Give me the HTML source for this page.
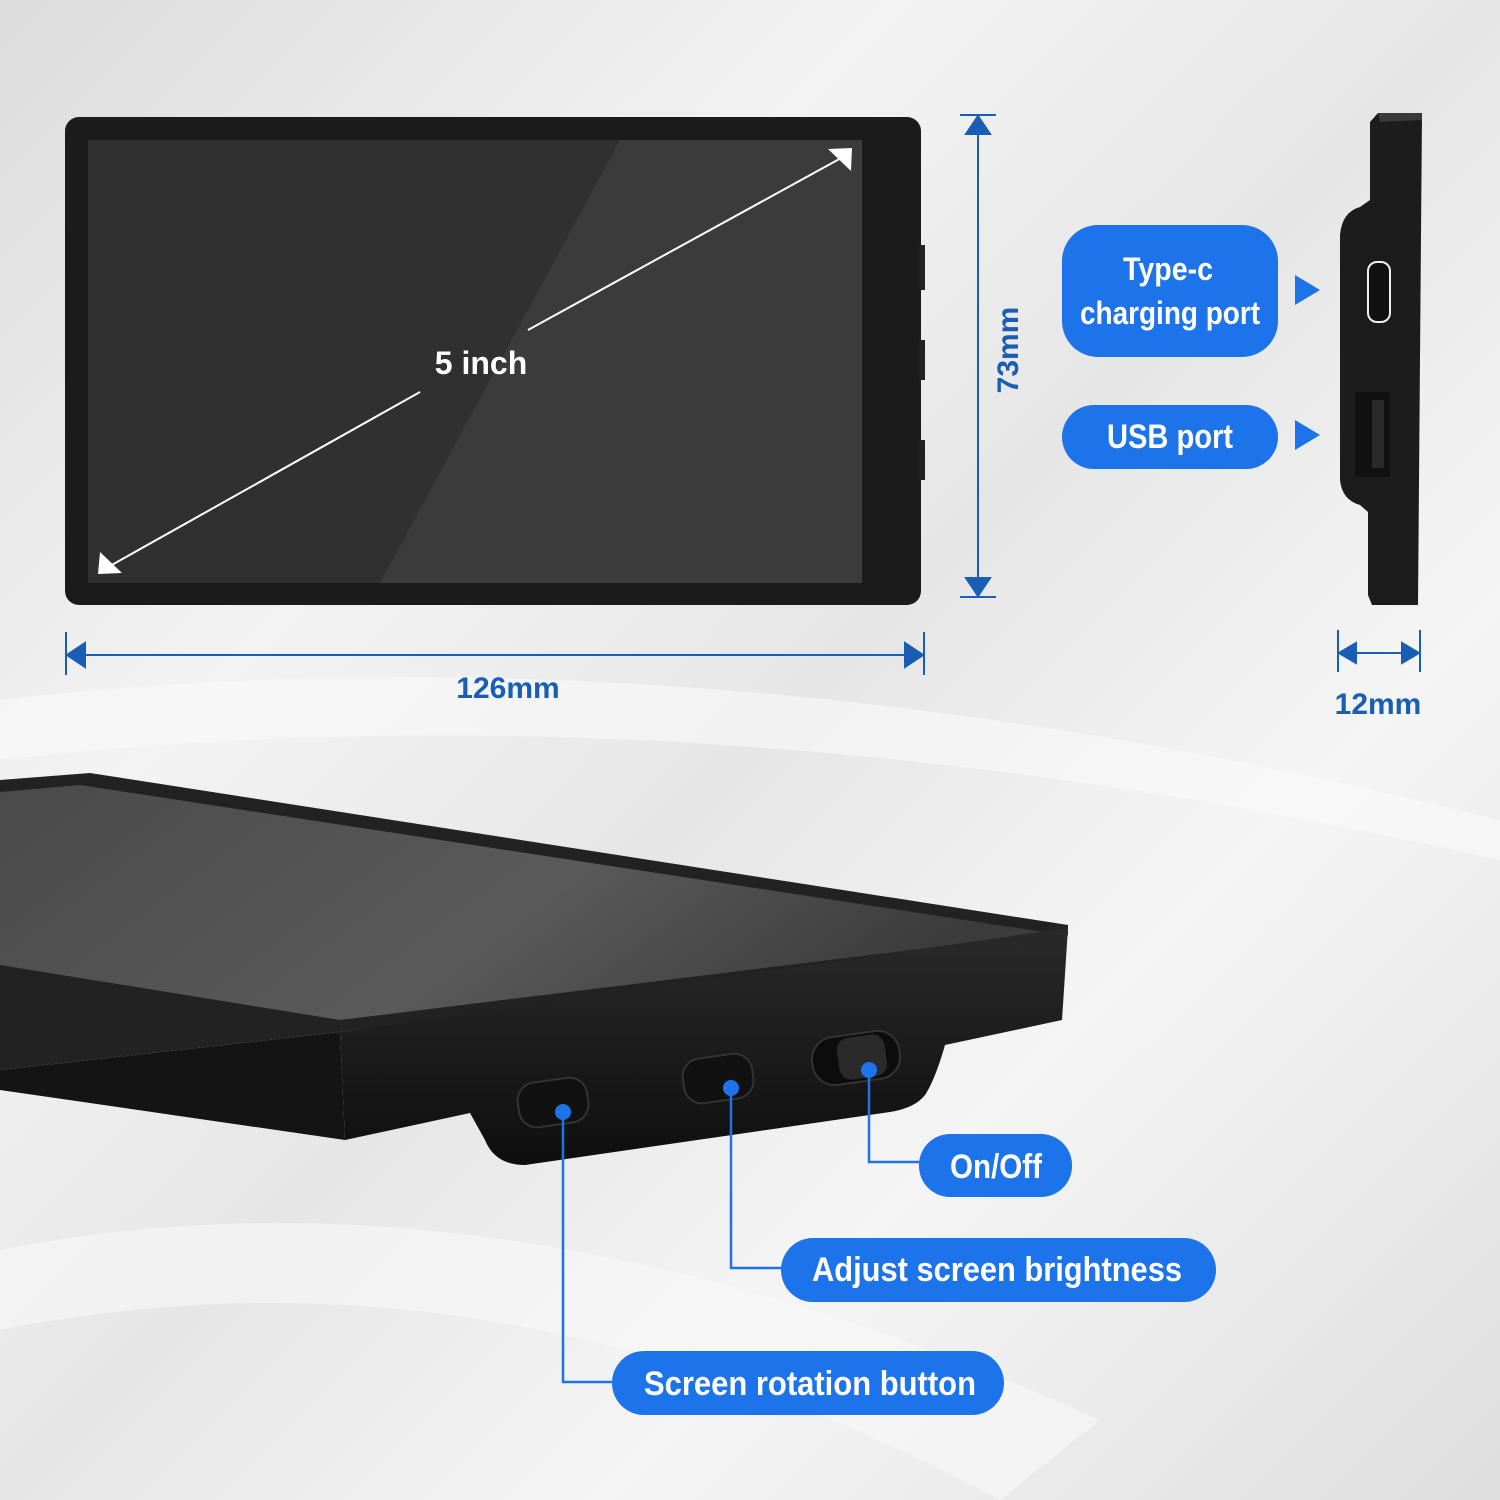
<!DOCTYPE html>
<html><head><meta charset="utf-8"><style>
html,body{margin:0;padding:0;width:1500px;height:1500px;overflow:hidden}
svg{display:block}
.pl{font-family:"Liberation Sans Narrow","Liberation Sans",sans-serif;font-weight:bold;fill:#fff;font-stretch:condensed}
.dm{font-family:"Liberation Sans",sans-serif;font-weight:bold;fill:#1a5db5}
</style></head><body>
<svg width="1500" height="1500" viewBox="0 0 1500 1500" xmlns="http://www.w3.org/2000/svg">
<defs>
<linearGradient id="bg" x1="0" y1="0" x2="1" y2="1">
<stop offset="0" stop-color="#dcdcdc"/><stop offset="0.3" stop-color="#f3f3f3"/><stop offset="0.5" stop-color="#e6e6e6"/><stop offset="0.7" stop-color="#f5f5f5"/><stop offset="1" stop-color="#dedede"/>
</linearGradient>
<linearGradient id="top" x1="0" y1="0" x2="1" y2="0.3">
<stop offset="0" stop-color="#4a4a4a"/><stop offset="0.6" stop-color="#5a5a5a"/><stop offset="1" stop-color="#3c3c3c"/>
</linearGradient>
<linearGradient id="front" x1="0" y1="0" x2="0" y2="1">
<stop offset="0" stop-color="#2a2a2a"/><stop offset="1" stop-color="#0e0e0e"/>
</linearGradient>
</defs>
<rect width="1500" height="1500" fill="url(#bg)"/>
<path d="M0 700 Q700 620 1500 820 L1500 860 Q700 680 0 760Z" fill="#fafafa" opacity="0.6"/>
<path d="M0 1250 Q500 1150 1100 1420 L1000 1500 Q500 1230 0 1330Z" fill="#f8f8f8" opacity="0.6"/>

<!-- top device -->
<rect x="65" y="117" width="856" height="488" rx="14" fill="#1b1b1b"/>
<rect x="88" y="140" width="774" height="443" fill="#303030"/>
<polygon points="620,140 862,140 862,583 380,583" fill="#3b3b3b"/>
<rect x="919" y="245" width="6" height="45" fill="#222"/>
<rect x="919" y="340" width="6" height="40" fill="#222"/>
<rect x="919" y="440" width="6" height="40" fill="#222"/>
<line x1="110" y1="566" x2="420" y2="392" stroke="#fff" stroke-width="2"/>
<line x1="528" y1="330" x2="843" y2="157" stroke="#fff" stroke-width="2"/>
<polygon points="98,574 122,573 100,552" fill="#fff"/>
<polygon points="852,148 828,149 851,171" fill="#fff"/>
<text x="481" y="374" text-anchor="middle" font-family="Liberation Sans,sans-serif" font-weight="bold" font-size="32" fill="#fff">5 inch</text>

<!-- dimensions -->
<g stroke="#1a5db5" stroke-width="2" fill="#1a5db5">
<line x1="978" y1="118" x2="978" y2="595"/>
<line x1="960" y1="115" x2="996" y2="115"/><line x1="960" y1="597" x2="996" y2="597"/>
<polygon points="978,116 966,134 990,134"/><polygon points="978,596 966,578 990,578"/>
<line x1="66" y1="655" x2="924" y2="655"/>
<line x1="66" y1="632" x2="66" y2="675"/><line x1="924" y1="632" x2="924" y2="675"/>
<polygon points="67,655 85,643 85,667"/><polygon points="923,655 905,643 905,667"/>
<line x1="1338" y1="653" x2="1420" y2="653"/>
<line x1="1338" y1="630" x2="1338" y2="672"/><line x1="1420" y1="630" x2="1420" y2="672"/>
<polygon points="1339,653 1356,643 1356,663"/><polygon points="1419,653 1402,643 1402,663"/>
</g>
<text class="dm" x="1018" y="350" font-size="30" text-anchor="middle" transform="rotate(-90 1018 350)">73mm</text>
<text class="dm" x="508" y="698" font-size="30" text-anchor="middle">126mm</text>
<text class="dm" x="1378" y="714" font-size="30" text-anchor="middle">12mm</text>

<!-- side view -->
<path d="M1378 113 L1422 113 L1418 605 L1372 605 L1368 595 L1368 512 L1360 505 Q1342 500 1340 480 L1340 235 Q1342 212 1360 207 L1370 200 L1370 122Z" fill="#1c1c1c"/>
<path d="M1378 113 L1422 113 L1422 120 L1380 122Z" fill="#3a3a3a"/>
<rect x="1368" y="262" width="22" height="60" rx="9" fill="#111" stroke="#eee" stroke-width="2"/>
<rect x="1355" y="392" width="35" height="85" fill="#111"/>
<rect x="1372" y="400" width="12" height="68" fill="#2a2a2a"/>
<polygon points="1295,275 1320,290 1295,305" fill="#1d74ea"/>
<polygon points="1295,420 1320,435 1295,450" fill="#1d74ea"/>

<rect x="1062" y="225" width="216" height="132" rx="36" fill="#1d74ea"/>
<text class="pl" x="1168" y="280" font-size="32" text-anchor="middle" textLength="90" lengthAdjust="spacingAndGlyphs">Type-c</text>
<text class="pl" x="1170" y="324" font-size="32" text-anchor="middle" textLength="180" lengthAdjust="spacingAndGlyphs">charging port</text>
<rect x="1062" y="405" width="216" height="64" rx="32" fill="#1d74ea"/>
<text class="pl" x="1170" y="448" font-size="34" text-anchor="middle" textLength="126" lengthAdjust="spacingAndGlyphs">USB port</text>

<!-- bottom device -->
<polygon points="0,1070 340,1032 345,1140 0,1090" fill="#141414"/>
<polygon points="0,780 90,773 1068,925 1068,935 340,1032 0,1070" fill="#222"/>
<polygon points="0,792 80,785 1050,933 340,1020 0,965" fill="url(#top)"/>
<path d="M340 1032 L1068 928 L1062 1020 L945 1045 Q935 1080 925 1095 Q915 1108 890 1112 L525 1165 Q495 1165 485 1140 L470 1113 L345 1140Z" fill="url(#front)"/>
<rect x="518" y="1080" width="70" height="45" rx="18" fill="#111" stroke="#333" stroke-width="2" transform="rotate(-8 553 1102)"/>
<rect x="683" y="1056" width="70" height="45" rx="18" fill="#111" stroke="#333" stroke-width="2" transform="rotate(-8 718 1078)"/>
<rect x="812" y="1034" width="88" height="48" rx="22" fill="#0c0c0c" stroke="#333" stroke-width="2" transform="rotate(-8 856 1058)"/>
<rect x="838" y="1036" width="48" height="42" rx="12" fill="#2a2a2a" transform="rotate(-8 862 1057)"/>

<g stroke="#1d74ea" stroke-width="2.5" fill="none">
<polyline points="563,1112 563,1382 612,1382"/>
<polyline points="731,1088 731,1268 782,1268"/>
<polyline points="869,1070 869,1162 920,1162"/>
</g>
<circle cx="563" cy="1112" r="8" fill="#1d74ea"/>
<circle cx="731" cy="1088" r="8" fill="#1d74ea"/>
<circle cx="869" cy="1070" r="8" fill="#1d74ea"/>

<rect x="919" y="1134" width="153" height="63" rx="31" fill="#1d74ea"/>
<text class="pl" x="996" y="1178" font-size="34" text-anchor="middle" textLength="92" lengthAdjust="spacingAndGlyphs">On/Off</text>
<rect x="781" y="1238" width="435" height="64" rx="32" fill="#1d74ea"/>
<text class="pl" x="997" y="1281" font-size="34" text-anchor="middle" textLength="370" lengthAdjust="spacingAndGlyphs">Adjust screen brightness</text>
<rect x="612" y="1351" width="392" height="64" rx="32" fill="#1d74ea"/>
<text class="pl" x="810" y="1395" font-size="34" text-anchor="middle" textLength="332" lengthAdjust="spacingAndGlyphs">Screen rotation button</text>
</svg>
</body></html>
